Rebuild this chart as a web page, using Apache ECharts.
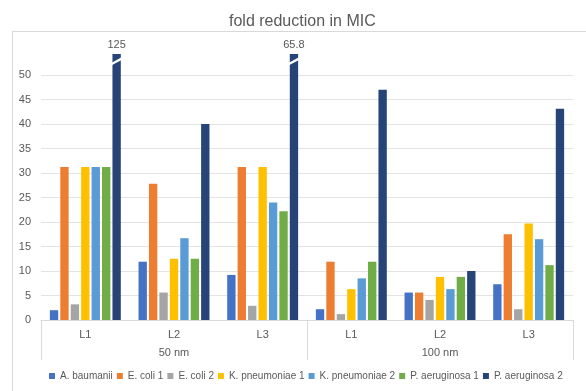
<!DOCTYPE html>
<html>
<head>
<meta charset="utf-8">
<script src="https://cdn.jsdelivr.net/npm/echarts@6/dist/echarts.min.js"></script>
<style>html,body{margin:0;padding:0;background:#fff}#c{width:586px;height:391px}</style>
</head>
<body>
<div id="c"></div>
<script>
const categories = ['L1', 'L2', 'L3', 'L1', 'L2', 'L3'];
const groups = ['50 nm', '100 nm'];
const seriesNames = ['A. baumanii', 'E. coli 1', 'E. coli 2', 'K. pneumoniae 1', 'K. pneumoniae 2', 'P. aeruginosa 1', 'P. aeruginosa 2'];
const aBaumanii      = [2.0, 11.9, 9.2, 2.2, 5.6, 7.3];
const eColi1         = [31.25, 27.8, 31.25, 11.9, 5.6, 17.5];
const eColi2         = [3.2, 5.6, 2.9, 1.2, 4.1, 2.2];
const kPneumoniae1   = [31.25, 12.5, 31.25, 6.3, 8.8, 19.7];
const kPneumoniae2   = [31.25, 16.7, 24.0, 8.5, 6.3, 16.5];
const pAeruginosa1   = [31.25, 12.5, 22.2, 11.9, 8.8, 11.2];
const pAeruginosa2   = [125, 40.0, 65.8, 47.0, 10.0, 43.1];
const yTicks = [0, 5, 10, 15, 20, 25, 30, 35, 40, 45, 50];

const values = [aBaumanii, eColi1, eColi2, kPneumoniae1, kPneumoniae2, pAeruginosa1, pAeruginosa2];
const colors = ['#4472C4', '#ED7D31', '#A5A5A5', '#FFC000', '#5B9BD5', '#70AD47', '#264478'];
const yMax = 54.3;
const breakAt = 52.8;
const txt = '#595959';
const font = 'Liberation Sans, Arial, sans-serif';

const series = values.map((arr, si) => {
  const s = {
    name: seriesNames[si],
    type: 'bar',
    barGap: '25%',
    barCategoryGap: '20%',
    itemStyle: { color: colors[si] },
    data: arr.map(v => v > yMax
      ? { value: v, label: { show: true, position: 'top', distance: 4, color: txt, fontSize: 11, fontFamily: font } }
      : v)
  };
  const broken = arr.map((v, i) => v > yMax ? i : -1).filter(i => i >= 0);
  if (broken.length) {
    s.markPoint = {
      silent: true,
      symbol: 'path://M0,6 L10,0 L10,3 L0,9 Z',
      symbolSize: [10, 8],
      itemStyle: { color: '#ffffff' },
      label: { show: false },
      data: broken.map(i => ({ coord: [i, breakAt] }))
    };
  }
  return s;
});

const chart = echarts.init(document.getElementById('c'), null, { renderer: 'canvas' });
chart.setOption({
  animation: false,
  backgroundColor: '#ffffff',
  color: colors,
  textStyle: { fontFamily: font },
  title: {
    text: 'fold reduction in MIC',
    left: 224,
    top: 9,
    textStyle: { fontSize: 16, fontWeight: 'normal', color: txt, fontFamily: font }
  },
  graphic: [{
    type: 'rect', silent: true, z: -1,
    shape: { x: 12.5, y: 31.5, width: 600, height: 400 },
    style: { fill: 'none', stroke: '#d9d9d9', lineWidth: 1 }
  }],
  legend: {
    bottom: 5,
    left: 44,
    icon: 'rect',
    itemWidth: 6,
    itemHeight: 6,
    itemGap: 4,
    textStyle: { fontSize: 10, color: txt, fontFamily: font },
    data: seriesNames
  },
  grid: { left: 41, right: 13, top: 54, bottom: 71 },
  xAxis: [{
    type: 'category',
    data: categories,
    axisLine: { lineStyle: { color: '#d9d9d9' } },
    axisTick: { show: false },
    axisLabel: { interval: 0, margin: 9, color: txt, fontSize: 11, fontFamily: font }
  }, {
    type: 'category',
    data: groups,
    position: 'bottom',
    axisLine: { show: false },
    axisTick: { show: true, length: 40, alignWithLabel: false, lineStyle: { color: '#d9d9d9' } },
    axisLabel: { interval: 0, margin: 27, color: txt, fontSize: 11, fontFamily: font }
  }],
  yAxis: {
    type: 'value',
    min: yTicks[0],
    max: yMax,
    interval: yTicks[1] - yTicks[0],
    axisLine: { show: false },
    axisTick: { show: false },
    axisLabel: { showMaxLabel: false, margin: 10, color: txt, fontSize: 11, fontFamily: font },
    splitLine: { showMaxLine: false, lineStyle: { color: '#e3e3e3' } }
  },
  series: series
});
</script>
</body>
</html>
